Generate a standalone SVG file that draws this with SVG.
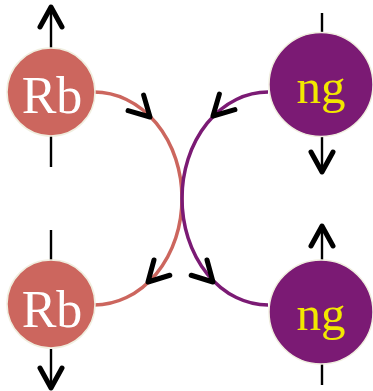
<svg xmlns="http://www.w3.org/2000/svg" width="373" height="391" viewBox="0 0 373 391">
<style>
.stem{stroke:#000;stroke-width:2.4;fill:none}
.ah{fill:none;stroke:#000;stroke-width:5;stroke-linecap:round;stroke-linejoin:round}
.rb{fill:#CC665E;stroke:#F0EEDF;stroke-width:1.5}
.ng{fill:#7B1A74;stroke:#F0EEDF;stroke-width:1.5}
.rbt{font-family:"Times New Roman","Liberation Serif",serif;font-size:52px;fill:#FFFFFF;text-anchor:middle}
.ngt{font-family:"Times New Roman","Liberation Serif",serif;font-size:49px;fill:#F2E800;text-anchor:middle}
</style>
<g id="connectors">
<path d="M94,92 A88,106.5 0 0 1 182,198.5 A88,106.5 0 0 1 94,305" fill="none" stroke="#CC665E" stroke-width="3.5"/>
<path d="M268,92 A86,106.5 0 0 0 182,198.5 A86,106.5 0 0 0 268,305" fill="none" stroke="#7B1A74" stroke-width="3.5"/>
<path class="ah" transform="translate(150,117) rotate(-45)" d="M-11,-20 L0,0 L11,-20"/>
<path class="ah" transform="translate(148,282) rotate(44)" d="M-11,-20 L0,0 L11,-20"/>
<path class="ah" transform="translate(213,116) rotate(45)" d="M-11,-20 L0,0 L11,-20"/>
<path class="ah" transform="translate(213,282) rotate(-44)" d="M-11,-20 L0,0 L11,-20"/>
<line class="stem" x1="51" y1="7" x2="51" y2="48"/>
<path class="ah" d="M40,27 L51,7 L62,27"/>
<line class="stem" x1="51" y1="136" x2="51" y2="167"/>
<line class="stem" x1="51" y1="230" x2="51" y2="261"/>
<line class="stem" x1="51" y1="349" x2="51" y2="388"/>
<path class="ah" d="M40,368 L51,388 L62,368"/>
<line class="stem" x1="322" y1="13" x2="322" y2="33"/>
<line class="stem" x1="322" y1="136" x2="322" y2="172"/>
<path class="ah" d="M311,152 L322,172 L333,152"/>
<line class="stem" x1="322" y1="226" x2="322" y2="261"/>
<path class="ah" d="M311,246 L322,226 L333,246"/>
<line class="stem" x1="322" y1="364" x2="322" y2="385"/>
</g>
<g id="rb-top">
<circle class="rb" cx="51" cy="92" r="44"/>
<text class="rbt" x="52" y="113">Rb</text>
</g>
<g id="rb-bottom">
<circle class="rb" cx="51" cy="304" r="44"/>
<text class="rbt" x="52" y="327">Rb</text>
</g>
<g id="ng-top">
<circle class="ng" cx="321" cy="84.5" r="52"/>
<text class="ngt" x="321" y="103">ng</text>
</g>
<g id="ng-bottom">
<circle class="ng" cx="321" cy="312" r="52"/>
<text class="ngt" x="321" y="330">ng</text>
</g>
</svg>
